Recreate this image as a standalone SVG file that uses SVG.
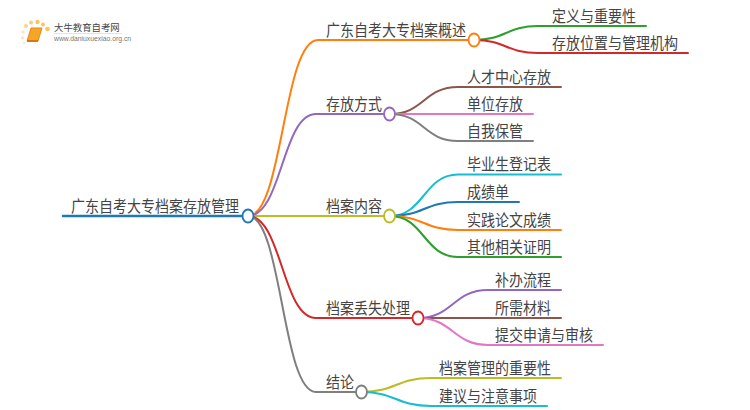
<svg xmlns="http://www.w3.org/2000/svg" width="750" height="410" viewBox="0 0 750 410">
<style>
text{font-family:"Noto Sans CJK SC","Liberation Sans",sans-serif;font-size:14px;fill:#444}
text:not(.k){transform-box:fill-box;transform-origin:0 100%;transform:scaleY(1.12)}
.c path{fill:none;stroke-width:2;stroke-linecap:round}
.n ellipse{fill:#fff;stroke-width:1.800}
.o{stroke:#ff7f0e}.p{stroke:#9467bd}.y{stroke:#bcbd22}.r{stroke:#d62728}.g{stroke:#7f7f7f}
.b{stroke:#1f77b4}.gr{stroke:#2ca02c}.br{stroke:#8c564b}.pk{stroke:#e377c2}.cy{stroke:#17becf}
</style>
<g id="logo">
<circle cx="23" cy="32" r="1.600" fill="#fde3b0"/><circle cx="26" cy="26" r="2" fill="#fbd48a"/><circle cx="31" cy="22.500" r="2" fill="#fbcd74"/><circle cx="37.500" cy="22" r="2.200" fill="#fbc45e"/><circle cx="43" cy="24.500" r="2" fill="#fbc45e"/><circle cx="47.500" cy="29" r="2.300" fill="#fbc45e"/><circle cx="22.500" cy="38" r="1.400" fill="#fde3b0"/><circle cx="24" cy="43" r="1.200" fill="#fde9c5"/>
<path d="M31 28H42L38 41H27Z" fill="#f5a623" stroke="#e8871e"/>
<path d="M27 41H38" stroke="#d9741a" stroke-width="2"/>
<text class="k" x="54" y="31" style="font-size:9.400px">大牛教育自考网</text>
<path d="M54 33.500H122" stroke="#ddd" stroke-width="0.800"/>
<text class="k" x="54" y="41" style="font-family:'Liberation Sans',sans-serif;font-size:6.800px;fill:#777">www.daniuxuexiao.org.cn</text>
</g>
<g id="connectors" class="c">
<path class="b" d="M63 216H242" style="stroke-width:2.500"/>
<path class="o" d="M248 216C283 216 283 40 318 40H468"/>
<path class="p" d="M248 216C282 216 282 114 316 114H384"/>
<path class="y" d="M248 216H384"/>
<path class="r" d="M248 216C282 216 282 318 316 318H412"/>
<path class="g" d="M248 216C282 216 282 392 316 392H356"/>
<path class="gr" d="M474 40C506 40 506 26 538 26H646"/>
<path class="r" d="M474 40C506 40 506 53 538 53H688"/>
<path class="br" d="M390 114C424 114 424 87 458 87H561"/>
<path class="pk" d="M390 114H533"/>
<path class="g" d="M390 114C424 114 424 141 458 141H533"/>
<path class="cy" d="M390 216C424 216 424 174.500 458 174.500H561"/>
<path class="b" d="M390 216C424 216 424 202 458 202H519"/>
<path class="o" d="M390 216C424 216 424 230 458 230H561"/>
<path class="gr" d="M390 216C424 216 424 257 458 257H561"/>
<path class="p" d="M418 318C453 318 453 290 488 290H561"/>
<path class="br" d="M418 318H561"/>
<path class="pk" d="M418 318C453 318 453 345 488 345H603"/>
<path class="y" d="M361 392C396 392 396 378 431 378H561"/>
<path class="cy" d="M361 392C396 392 396 406 431 406H547"/>
</g>
<g id="root" class="n"><ellipse class="b" cx="248" cy="216" rx="5.500" ry="6.500"/><text x="71" y="212">广东自考大专档案存放管理</text></g>
<g id="n1" class="n"><ellipse class="o" cx="474" cy="40" rx="5.500" ry="6.500"/><text x="326" y="36">广东自考大专档案概述</text></g>
<g id="n2" class="n"><ellipse class="p" cx="389.500" cy="114" rx="5.500" ry="6.500"/><text x="326" y="110">存放方式</text></g>
<g id="n3" class="n"><ellipse class="y" cx="389.500" cy="216" rx="5.500" ry="6.500"/><text x="326" y="212">档案内容</text></g>
<g id="n4" class="n"><ellipse class="r" cx="418" cy="318" rx="5.500" ry="6.500"/><text x="326" y="314">档案丢失处理</text></g>
<g id="n5" class="n"><ellipse class="g" cx="361.500" cy="392" rx="5.500" ry="6.500"/><text x="326" y="388">结论</text></g>
<g id="l11"><text x="552" y="22">定义与重要性</text></g>
<g id="l12"><text x="552" y="49">存放位置与管理机构</text></g>
<g id="l21"><text x="467" y="83">人才中心存放</text></g>
<g id="l22"><text x="467" y="110">单位存放</text></g>
<g id="l23"><text x="467" y="137">自我保管</text></g>
<g id="l31"><text x="467" y="170.500">毕业生登记表</text></g>
<g id="l32"><text x="467" y="198">成绩单</text></g>
<g id="l33"><text x="467" y="226">实践论文成绩</text></g>
<g id="l34"><text x="467" y="253">其他相关证明</text></g>
<g id="l41"><text x="495" y="286">补办流程</text></g>
<g id="l42"><text x="495" y="314">所需材料</text></g>
<g id="l43"><text x="495" y="341">提交申请与审核</text></g>
<g id="l51"><text x="439" y="374">档案管理的重要性</text></g>
<g id="l52"><text x="439" y="402">建议与注意事项</text></g>
</svg>
